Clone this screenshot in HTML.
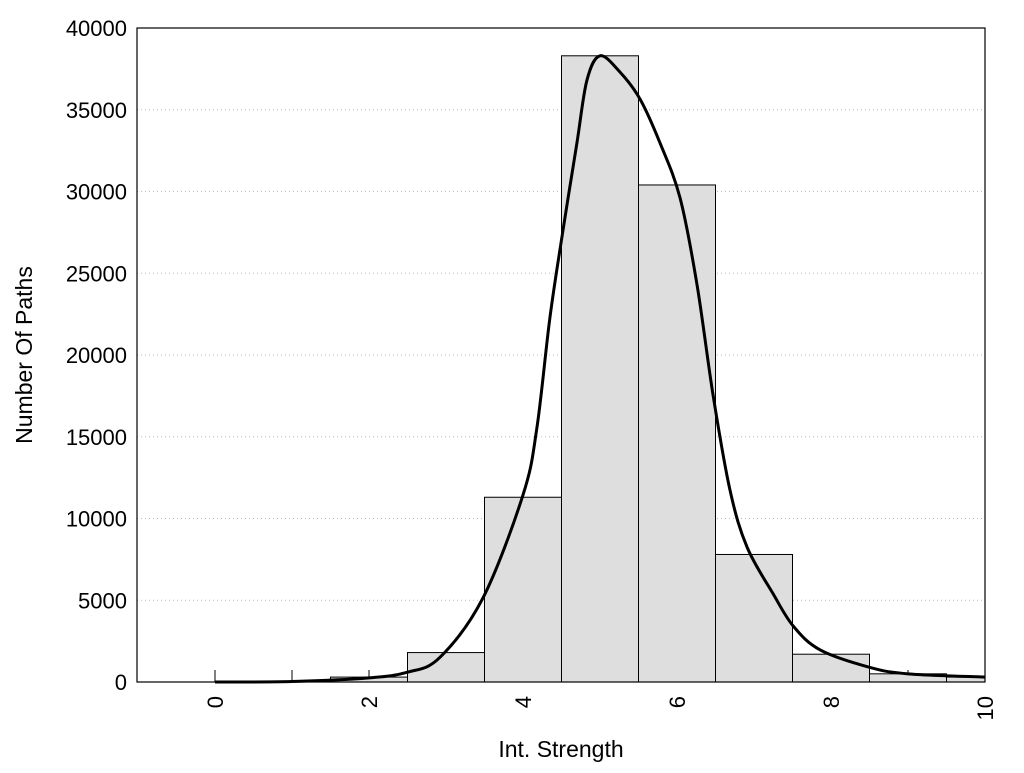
<!DOCTYPE html>
<html><head><meta charset="utf-8"><style>
body{margin:0;background:#fff}
svg text{font-family:"Liberation Sans",sans-serif;fill:#000}
</style></head><body>
<svg id="chart" width="1024" height="768" xmlns="http://www.w3.org/2000/svg">
<g id="grid"></g>
<g id="bars"></g>
<g id="ticks"></g>
<path id="curve" fill="none" stroke="#000" stroke-width="3"/>
<rect x="137" y="28" width="848" height="654" fill="none" stroke="#000" stroke-width="1.2"/>
<text x="561" y="757" font-size="23" text-anchor="middle">Int. Strength</text>
<text transform="translate(32,355) rotate(-90)" font-size="23" text-anchor="middle">Number Of Paths</text>
</svg>
<script>
const barCenters=[0,1,2,3,4,5,6,7,8,9,10];
const barValues=[0,0,300,1800,11300,38300,30400,7800,1700,500,300];
const curveX=[0,1,2,2.5,2.92,3.48,4.0,4.18,4.35,4.52,4.70,4.83,5.0,5.26,5.52,5.78,6.04,6.26,6.47,6.69,6.91,7.25,7.51,7.86,8.5,9,10];
const curveY=[0,30,250,600,1500,5140,11440,15530,22300,27650,32960,36800,38300,37300,35650,32960,29600,24300,17500,11700,8250,5380,3420,1960,900,500,300];
const yTicks=[0,5000,10000,15000,20000,25000,30000,35000,40000];
const xTicks=[0,2,4,6,8,10];
const L=137,R=985,T=28,B=682;
const sx=v=>215+(v)*77;
const sy=v=>B-v/40000*(B-T);
const NS="http://www.w3.org/2000/svg";
function mk(tag,attrs,parent){const e=document.createElementNS(NS,tag);for(const k in attrs)e.setAttribute(k,attrs[k]);parent.appendChild(e);return e;}
const grid=document.getElementById('grid'),bars=document.getElementById('bars'),ticks=document.getElementById('ticks');
yTicks.forEach(v=>{
  if(v>0&&v<40000){const g=mk('line',{x1:L,x2:R,y1:sy(v),y2:sy(v),stroke:'#bbb','stroke-dasharray':'1 3','stroke-width':1},grid);
  
  }
  const t=mk('text',{x:L-10,y:sy(v)+8,'font-size':22,'text-anchor':'end'},ticks);t.textContent=v;
  
  
});
for(let i=0;i<=10;i++){const tk=mk('line',{x1:sx(i),x2:sx(i),y1:B,y2:B-12,stroke:'#000','stroke-width':1},grid);
  
  }
xTicks.forEach(v=>{
  const t=mk('text',{transform:`translate(${sx(v)+8},${B+14}) rotate(-90)`,'font-size':22,'text-anchor':'end'},ticks);t.textContent=v;
  
  
});
barCenters.forEach((c,i)=>{
  const x0=Math.max(L,sx(c-0.5)),x1=Math.min(R,sx(c+0.5));const v=barValues[i];
  if(v<=0)return;
  const r=mk('rect',{x:x0,y:sy(v),width:x1-x0,height:B-sy(v),fill:'#dedede',stroke:'#000','stroke-width':1},bars);
  
  
});
const pts=curveX.map((x,i)=>[sx(x),sy(curveY[i])]);
let d=`M${pts[0][0]},${pts[0][1]}`;
for(let i=0;i<pts.length-1;i++){
  const p0=pts[Math.max(0,i-1)],p1=pts[i],p2=pts[i+1],p3=pts[Math.min(pts.length-1,i+2)];
  const c1=[p1[0]+(p2[0]-p0[0])/6,p1[1]+(p2[1]-p0[1])/6],c2=[p2[0]-(p3[0]-p1[0])/6,p2[1]-(p3[1]-p1[1])/6];
  d+=` C${c1[0]},${c1[1]} ${c2[0]},${c2[1]} ${p2[0]},${p2[1]}`;
}
document.getElementById('curve').setAttribute('d',d);
</script>
</body></html>
